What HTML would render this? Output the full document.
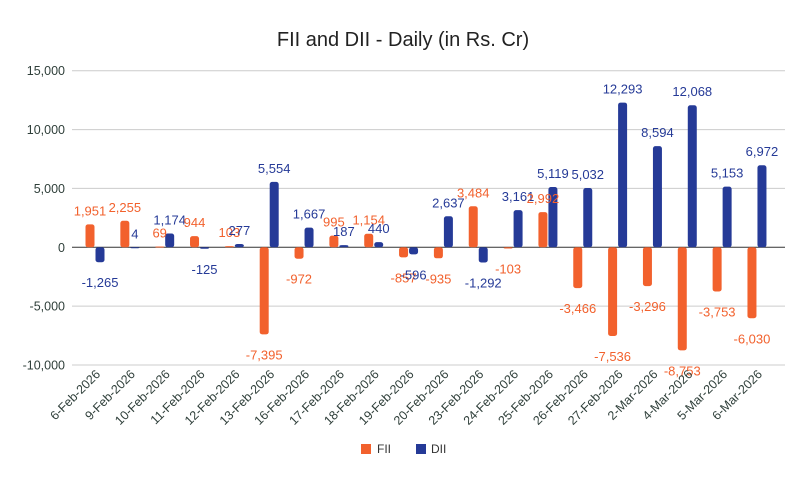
<!DOCTYPE html>
<html><head><meta charset="utf-8"><style>
body{margin:0;background:#fff;}
svg{display:block;font-family:"Liberation Sans",Arial,sans-serif;}
</style></head><body>
<svg id="chart" width="805" height="481">
<rect width="805" height="481" fill="#fff"/>
<text x="403" y="46" text-anchor="middle" font-size="20" fill="#222">FII and DII - Daily (in Rs. Cr)</text>
<g id="grid"></g><g id="bars"></g><g id="labels"></g><g id="xlabels"></g>
<g>
<rect x="361" y="444" width="10" height="10" fill="#f2612d"/>
<text x="377" y="453" font-size="12" fill="#333">FII</text>
<rect x="416" y="444" width="10" height="10" fill="#253a97"/>
<text x="431" y="453" font-size="12" fill="#333">DII</text>
</g>
</svg>
<script>
const categories=["6-Feb-2026","9-Feb-2026","10-Feb-2026","11-Feb-2026","12-Feb-2026","13-Feb-2026","16-Feb-2026","17-Feb-2026","18-Feb-2026","19-Feb-2026","20-Feb-2026","23-Feb-2026","24-Feb-2026","25-Feb-2026","26-Feb-2026","27-Feb-2026","2-Mar-2026","4-Mar-2026","5-Mar-2026","6-Mar-2026"];
const fii=[1951,2255,69,944,103,-7395,-972,995,1154,-857,-935,3484,-103,2992,-3466,-7536,-3296,-8753,-3753,-6030];
const dii=[-1265,4,1174,-125,277,5554,1667,187,440,-596,2637,-1292,3161,5119,5032,12293,8594,12068,5153,6972];
const yTicks=[-10000,-5000,0,5000,10000,15000];
const NS="http://www.w3.org/2000/svg";
const y=v=>247.3-v*0.011773;
const xc=i=>95+i*34.84;
const fmt=v=>v.toLocaleString("en-US");
function el(t,a,p,txt){const e=document.createElementNS(NS,t);for(const k in a)e.setAttribute(k,a[k]);if(txt!==undefined)e.textContent=txt;document.getElementById(p).appendChild(e);return e;}
yTicks.forEach(t=>{
  const l=el("line",{x1:72,x2:785,y1:y(t),y2:y(t),stroke:t===0?"#333":"#ccc","stroke-width":1},"grid");
  
  
  const tx=el("text",{x:65,y:y(t)+4.5,"text-anchor":"end","font-size":12.5,fill:"#2f3f3a"},"grid",fmt(t));
  
  
});
function bar(v,x,color,name,i){
  const y0=y(0),y1=y(v);
  const r=el("rect",{x:x,y:Math.min(y0,y1),width:9,height:Math.max(1,Math.abs(y1-y0)),fill:color,rx:2.5},"bars");
  
  
  const ly=v>=0?y1-9:y1+25;
  const t=el("text",{x:x+4.5,y:ly,"text-anchor":"middle","font-size":13,fill:color},"labels",fmt(v));
  
  
}
categories.forEach((c,i)=>{
  const cx=xc(i);
  bar(fii[i],cx-9.5,"#f2612d","fii",i);
  bar(dii[i],cx+0.5,"#253a97","dii",i);
  const t=el("text",{x:cx+6,y:375,"text-anchor":"end","font-size":12.5,fill:"#2f3f3a",transform:`rotate(-45 ${cx+6} 375)`},"xlabels",c);
  
  
});
</script>
</body></html>
